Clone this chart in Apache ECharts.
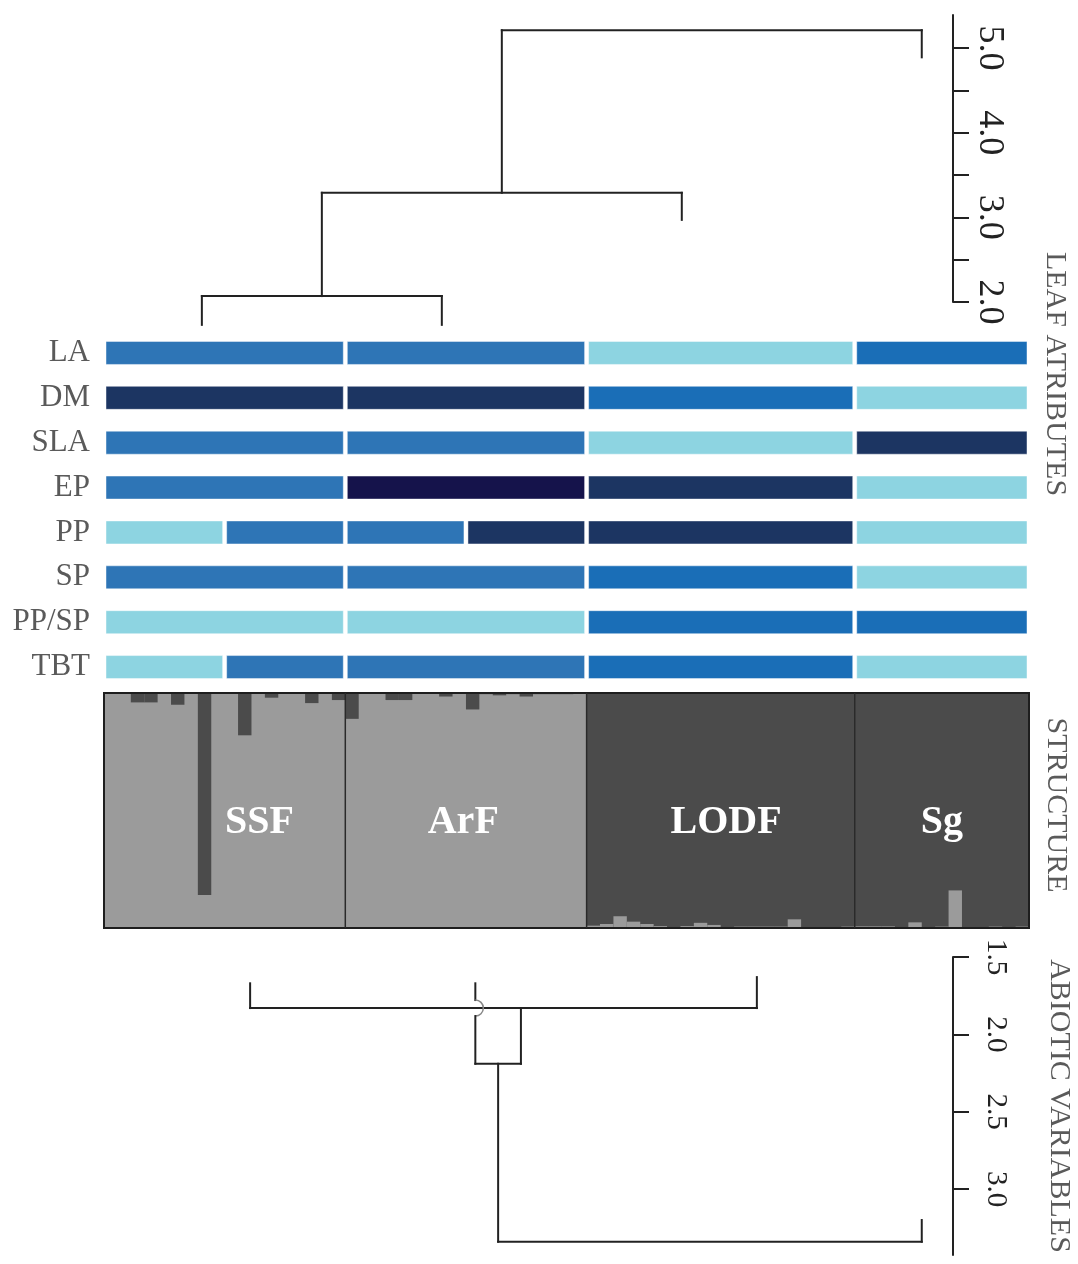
<!DOCTYPE html>
<html><head><meta charset="utf-8">
<script src="https://cdn.jsdelivr.net/npm/echarts@6/dist/echarts.min.js"></script>
<style>html,body{margin:0;padding:0;background:#fff}#c{width:1078px;height:1264px}</style>
</head><body><div id="c"></div>
<script>
// ---------------- DATA ----------------
const populations = ['SSF', 'ArF', 'LODF', 'Sg'];
// STRUCTURE: membership in cluster 1 (light grey) for each individual
const qSSF  = [1, 1, 0.96, 0.96, 1, 0.95, 1, 0.14, 1, 1, 0.82, 1, 0.98, 1, 1, 0.957, 1, 0.97];
const qArF  = [0.89, 1, 1, 0.97, 0.97, 1, 1, 0.985, 1, 0.93, 0.995, 0.99, 0.995, 0.985, 0.995, 0.995, 0.995, 1];
const qLODF = [0.01, 0.017, 0.05, 0.027, 0.017, 0.008, 0, 0.008, 0.022, 0.013, 0, 0.006, 0.006, 0.006, 0.006, 0.037, 0, 0, 0.004, 0.006];
const qSg   = [0.007, 0.007, 0.007, 0, 0.024, 0, 0.006, 0.16, 0, 0, 0.006, 0, 0.006];

// Leaf attributes: class codes per population (1 light ... 5 darkest); two codes = half/half
const attributeNames = ['LA', 'DM', 'SLA', 'EP', 'PP', 'SP', 'PP/SP', 'TBT'];
const rowLA   = [[2], [2], [1], [3]];
const rowDM   = [[4], [4], [3], [1]];
const rowSLA  = [[2], [2], [1], [4]];
const rowEP   = [[2], [5], [4], [1]];
const rowPP   = [[1, 2], [2, 4], [4], [1]];
const rowSP   = [[2], [2], [3], [1]];
const rowPPSP = [[1], [1], [3], [3]];
const rowTBT  = [[1, 2], [2], [3], [1]];

// Dendrogram of leaf attributes (x in individual units, heights on the distance axis)
const leafTipX = [7.3, 25.2, 43.1, 61.0];
const leafTipH = [1.73, 1.73, 2.97, 4.89];
const leafMerges = [[0, 1, 2.07], [4, 2, 3.29], [5, 3, 5.21]];
const leafTicks = [2.0, 2.5, 3.0, 3.5, 4.0, 4.5, 5.0];
const leafLabels = [2.0, 3.0, 4.0, 5.0];

// Dendrogram of abiotic variables
const abioTipX = [10.9, 27.7, 48.7, 61.0];
const abioTipH = [1.67, 1.67, 1.63, 3.20];
const abioMerges = [[0, 2, 1.83, 31.1], [1, 4, 2.19], [5, 3, 3.34]];
const abioTicks = [1.5, 2.0, 2.5, 3.0];
const abioLabels = [1.5, 2.0, 2.5, 3.0];

// ---------------- BUILD ----------------
const serif = "'Liberation Serif','Times New Roman',serif";
const attrColors = {1: '#8dd4e1', 2: '#2e75b6', 3: '#1a6eb7', 4: '#1c3562', 5: '#15134b'};
const LIGHT = '#9b9b9b', DARK = '#4b4b4b';
const popQ = [qSSF, qArF, qLODF, qSg];
const popStart = []; let total = 0;
popQ.forEach(q => { popStart.push(total); total += q.length; });
const popLightBase = popQ.map(q => q.reduce((a, b) => a + b, 0) / q.length > 0.5);

const structData = [];
popQ.forEach((q, p) => q.forEach((v, i) => structData.push([popStart[p] + i, v, p])));

const rows = [rowLA, rowDM, rowSLA, rowEP, rowPP, rowSP, rowPPSP, rowTBT];
const attrData = [];
rows.forEach((row, r) => row.forEach((cls, p) => {
  const s = popStart[p], len = popQ[p].length;
  cls.forEach((c, k) => attrData.push([r, s + len * k / cls.length, s + len * (k + 1) / cls.length, c]));
}));

const popData = populations.map((n, p) => [popStart[p], popStart[p] + popQ[p].length]);
const labelShift = [2.6, -0.2, 0.4, 0];

function buildTree(tipX, tipH, merges) {
  const x = tipX.slice(), h = tipH.slice();
  merges.forEach(m => { x.push(m[3] !== undefined ? m[3] : (x[m[0]] + x[m[1]]) / 2); h.push(m[2]); });
  return {x, h, merges, n: tipX.length};
}
function dendroSeries(tree, axisIndex) {
  return {
    type: 'custom', xAxisIndex: axisIndex, yAxisIndex: axisIndex, clip: false, silent: true,
    data: tree.merges.map((m, i) => [tree.x[tree.n + i], m[2]]),
    encode: {x: 0, y: 1},
    renderItem(params, api) {
      const idx = params.dataIndex, m = tree.merges[idx];
      const style = {stroke: '#222', lineWidth: 2, fill: null, lineCap: 'square'};
      const hj = m[2];
      const A = api.coord([tree.x[m[0]], hj]), B = api.coord([tree.x[m[1]], hj]);
      const children = [{type: 'line', shape: {x1: A[0], y1: A[1], x2: B[0], y2: B[1]}, style}];
      [m[0], m[1]].forEach(c => {
        const cx = tree.x[c];
        const top = api.coord([cx, tree.h[c]]), bot = api.coord([cx, hj]);
        let cross = null;
        tree.merges.forEach((o, j) => {
          if (j === idx) return;
          const lo = Math.min(tree.x[o[0]], tree.x[o[1]]), hi = Math.max(tree.x[o[0]], tree.x[o[1]]);
          const mn = Math.min(tree.h[c], hj), mx = Math.max(tree.h[c], hj);
          if (cx > lo && cx < hi && o[2] > mn && o[2] < mx) cross = api.coord([cx, o[2]]);
        });
        if (cross) {
          const r = 8, d = Math.sign(bot[1] - top[1]);
          children.push({type: 'line', shape: {x1: top[0], y1: top[1], x2: top[0], y2: cross[1] - d * r}, style});
          children.push({type: 'arc', shape: {cx: cross[0], cy: cross[1], r, startAngle: -Math.PI / 2, endAngle: Math.PI / 2, clockwise: true},
            style: {stroke: '#888', lineWidth: 1.5, fill: null}});
          children.push({type: 'line', shape: {x1: top[0], y1: cross[1] + d * r, x2: bot[0], y2: bot[1]}, style});
        } else {
          children.push({type: 'line', shape: {x1: top[0], y1: top[1], x2: bot[0], y2: bot[1]}, style});
        }
      });
      return {type: 'group', children};
    }
  };
}
const leafTree = buildTree(leafTipX, leafTipH, leafMerges);
const abioTree = buildTree(abioTipX, abioTipH, abioMerges);

// layout: panels span x 104..1029; distance axes sit at x 953
const W = 1078, L = 104, R = 49, AXIS_X = 953;
const dendroRight = W - AXIS_X;
const dendroMax = total * (AXIS_X - L) / (W - R - L);
const xAxes = [0, 1, 2, 3].map(i => ({type: 'value', gridIndex: i, min: 0,
  max: (i === 0 || i === 3) ? dendroMax : total, show: false}));
function distAxis(grid, min, max, ticks, labels, inverse, fs, margin) {
  return {
    type: 'value', gridIndex: grid, min, max, inverse, position: 'right',
    splitLine: {show: false},
    axisLine: {show: true, onZero: false, lineStyle: {color: '#222', width: 2}},
    axisTick: {show: true, customValues: ticks, length: 16, lineStyle: {color: '#222', width: 2}},
    axisLabel: {show: true, customValues: labels, rotate: -90, margin, fontSize: fs, fontFamily: serif, color: '#222',
      formatter: v => Number(v).toFixed(1)}
  };
}

const option = {
  animation: false,
  backgroundColor: '#fff',
  grid: [
    {left: L, right: dendroRight, top: 15, height: 287},
    {left: L, right: R, top: 330.5, height: 359},
    {left: L, right: R, top: 693, height: 235},
    {left: L, right: dendroRight, top: 957, height: 298}
  ],
  xAxis: xAxes,
  yAxis: [
    distAxis(0, 2.0, 5.39, leafTicks, leafLabels, false, 36, 18),
    {type: 'category', gridIndex: 1, data: attributeNames, inverse: true,
      axisLine: {show: false}, axisTick: {show: false}, splitLine: {show: false},
      axisLabel: {fontSize: 31, fontFamily: serif, color: '#5a5a5a', margin: 14}},
    {type: 'value', gridIndex: 2, min: 0, max: 1, show: false},
    distAxis(3, 1.5, 3.426, abioTicks, abioLabels, true, 29, 28)
  ],
  graphic: [
    {type: 'text', x: 1055, y: 374, rotation: -Math.PI / 2,
      style: {text: 'LEAF ATRIBUTES', fill: '#5a5a5a', font: "30px " + serif, align: 'center', verticalAlign: 'middle'}},
    {type: 'text', x: 1056, y: 805, rotation: -Math.PI / 2,
      style: {text: 'STRUCTURE', fill: '#5a5a5a', font: "30px " + serif, align: 'center', verticalAlign: 'middle'}},
    {type: 'text', x: 1059, y: 1106, rotation: -Math.PI / 2,
      style: {text: 'ABIOTIC VARIABLES', fill: '#5a5a5a', font: "30px " + serif, align: 'center', verticalAlign: 'middle'}}
  ],
  series: [
    dendroSeries(leafTree, 0),
    {
      type: 'custom', xAxisIndex: 1, yAxisIndex: 1, silent: true, data: attrData, encode: {x: [1, 2], y: 0},
      renderItem(params, api) {
        const r = api.value(0), s = api.value(1), e = api.value(2), c = api.value(3);
        const p0 = api.coord([s, r]), p1 = api.coord([e, r]);
        const h = 23;
        return {type: 'rect', shape: {x: p0[0] + 2, y: p0[1] - h / 2, width: p1[0] - p0[0] - 4, height: h},
          style: {fill: attrColors[c], stroke: 'rgba(255,255,255,0.45)', lineWidth: 1}};
      }
    },
    // population base colour
    {
      type: 'custom', xAxisIndex: 2, yAxisIndex: 2, silent: true, z: 1, data: popData, encode: {x: [0, 1]},
      renderItem(params, api) {
        const p = params.dataIndex;
        const tl = api.coord([api.value(0), 1]), br = api.coord([api.value(1), 0]);
        return {type: 'rect', shape: {x: tl[0], y: tl[1], width: br[0] - tl[0], height: br[1] - tl[1]},
          style: {fill: popLightBase[p] ? LIGHT : DARK}};
      }
    },
    // minority membership bars
    {
      type: 'custom', xAxisIndex: 2, yAxisIndex: 2, silent: true, z: 2, data: structData, encode: {x: 0, y: 1},
      renderItem(params, api) {
        const i = api.value(0), q = api.value(1), p = api.value(2);
        const a = api.coord([i, 0]), b = api.coord([i + 1, q]), c = api.coord([i + 1, 1]);
        const w = b[0] - a[0];
        if (popLightBase[p]) {
          if (q >= 1) return null;
          return {type: 'rect', shape: {x: a[0], y: c[1], width: w, height: b[1] - c[1]}, style: {fill: DARK}};
        }
        if (q <= 0) return null;
        return {type: 'rect', shape: {x: a[0], y: b[1], width: w, height: a[1] - b[1]}, style: {fill: LIGHT}};
      }
    },
    {
      type: 'custom', xAxisIndex: 2, yAxisIndex: 2, silent: true, z: 5, data: popData, encode: {x: [0, 1]},
      renderItem(params, api) {
        const p = params.dataIndex, s = api.value(0), e = api.value(1);
        const children = [];
        if (s > 0) {
          const t = api.coord([s, 1]), b = api.coord([s, 0]);
          children.push({type: 'line', shape: {x1: t[0], y1: t[1], x2: b[0], y2: b[1]}, style: {stroke: '#2a2a2a', lineWidth: 1.5}});
        }
        const lp = api.coord([(s + e) / 2 + labelShift[p], 0.45]);
        children.push({type: 'text', x: lp[0], y: lp[1],
          style: {text: populations[p], fill: '#fff', font: "bold 40px " + serif, align: 'center', verticalAlign: 'middle'}});
        if (p === 0) {
          const tl = api.coord([0, 1]), br = api.coord([total, 0]);
          children.push({type: 'rect', shape: {x: tl[0], y: tl[1], width: br[0] - tl[0], height: br[1] - tl[1]},
            style: {fill: null, stroke: '#1e1e1e', lineWidth: 2}});
        }
        return {type: 'group', children};
      }
    },
    dendroSeries(abioTree, 3)
  ]
};
const chart = echarts.init(document.getElementById('c'));
chart.setOption(option);
</script>
</body></html>
